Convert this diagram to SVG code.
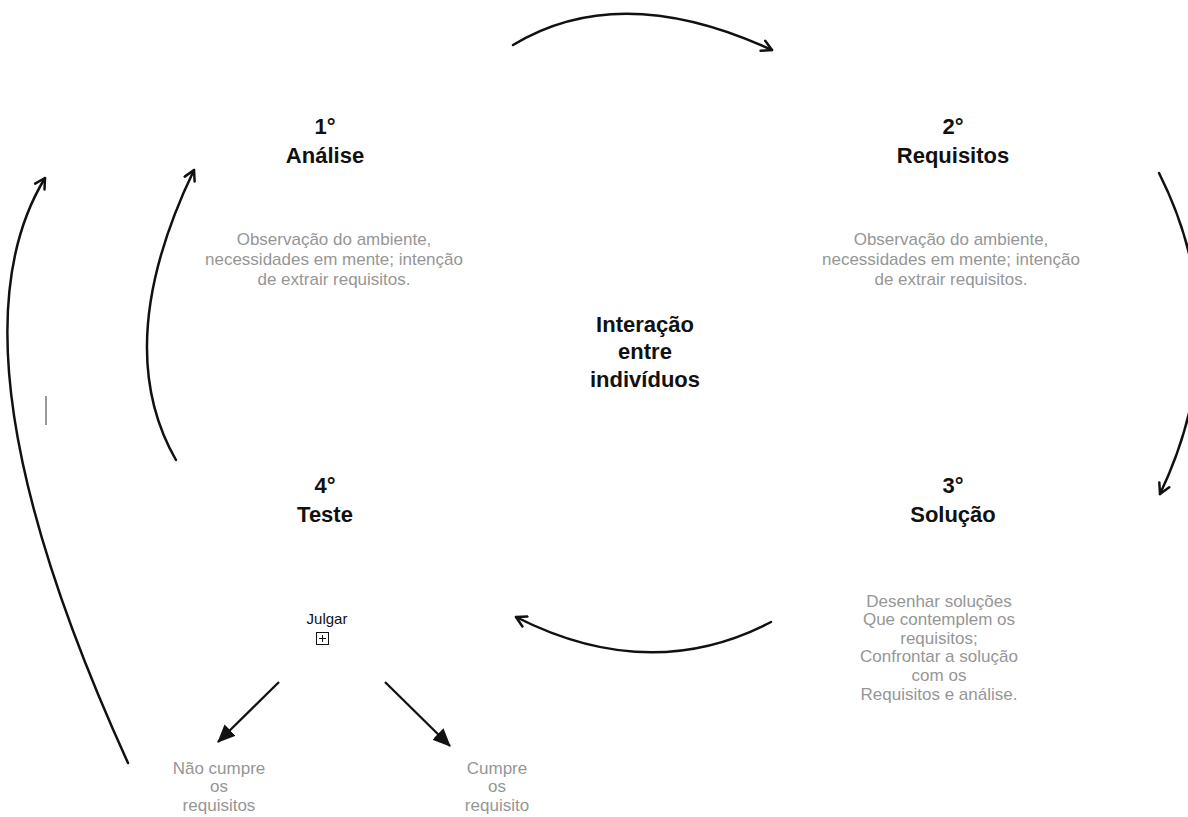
<svg xmlns="http://www.w3.org/2000/svg" width="1188" height="817" viewBox="0 0 1188 817">
<defs>
<style>
.t{font-family:"Liberation Sans",Arial,Helvetica,sans-serif;font-weight:bold;font-size:22px;fill:#111;text-anchor:middle}
.b{font-family:"Liberation Sans",Arial,Helvetica,sans-serif;font-size:17px;fill:#969696;text-anchor:middle}
.j{font-family:"Liberation Sans",Arial,Helvetica,sans-serif;font-size:15px;fill:#111;text-anchor:middle}
.arc{fill:none;stroke:#111;stroke-width:2.5;stroke-linecap:round;marker-end:url(#open)}
.dg{fill:none;stroke:#111;stroke-width:2.3;marker-end:url(#solid)}
</style>
<marker id="open" viewBox="0 0 14 14" refX="12" refY="7" markerWidth="14" markerHeight="14" markerUnits="userSpaceOnUse" orient="auto">
<path d="M2,1.5 L12,7 L2,12.5" fill="none" stroke="#111" stroke-width="2.5" stroke-linecap="round" stroke-linejoin="round"/>
</marker>
<marker id="solid" viewBox="0 0 18 16" refX="17" refY="8" markerWidth="18" markerHeight="16" markerUnits="userSpaceOnUse" orient="auto">
<path d="M0,0 L18,8 L0,16 Z" fill="#111"/>
</marker>
</defs>
<rect width="1188" height="817" fill="#fff"/>
<g id="connectors">
<path class="arc" d="M513,45 Q620,-20 772,50"/>
<path class="arc" d="M1159,173 Q1238,330 1160,494"/>
<path class="arc" d="M771,622 Q650,685 516,617"/>
<path class="arc" d="M176,460 Q110,345 194,170"/>
<path class="arc" d="M128,763 Q-60,350 45,178"/>
<path class="dg" d="M279,682 L218,742"/>
<path class="dg" d="M385,682 L450,746"/>
</g>
<line x1="46" y1="396" x2="46" y2="425" stroke="#777" stroke-width="1.5"/>
<g id="n1">
<text class="t" x="325" y="134">1°</text>
<text class="t" x="325" y="163">Análise</text>
<text class="b" x="334" y="245">Observação do ambiente,</text>
<text class="b" x="334" y="265">necessidades em mente; intenção</text>
<text class="b" x="334" y="285">de extrair requisitos.</text>
</g>
<g id="n2">
<text class="t" x="953" y="134">2°</text>
<text class="t" x="953" y="163">Requisitos</text>
<text class="b" x="951" y="245">Observação do ambiente,</text>
<text class="b" x="951" y="265">necessidades em mente; intenção</text>
<text class="b" x="951" y="285">de extrair requisitos.</text>
</g>
<g id="center">
<text class="t" x="645" y="332">Interação</text>
<text class="t" x="645" y="359">entre</text>
<text class="t" x="645" y="387">indivíduos</text>
</g>
<g id="n3">
<text class="t" x="953" y="493">3°</text>
<text class="t" x="953" y="522">Solução</text>
<text class="b" x="939" y="607">Desenhar soluções</text>
<text class="b" x="939" y="625">Que contemplem os</text>
<text class="b" x="939" y="644">requisitos;</text>
<text class="b" x="939" y="662">Confrontar a solução</text>
<text class="b" x="939" y="681">com os</text>
<text class="b" x="939" y="700">Requisitos e análise.</text>
</g>
<g id="n4">
<text class="t" x="325" y="493">4°</text>
<text class="t" x="325" y="522">Teste</text>
<text class="j" x="327" y="624">Julgar</text>
<rect x="316.5" y="632.5" width="12" height="12" fill="none" stroke="#111" stroke-width="1"/>
<path d="M322.5,635 V642 M319,638.5 H326" stroke="#111" stroke-width="1"/>
</g>
<g id="n5">
<text class="b" x="219" y="774">Não cumpre</text>
<text class="b" x="219" y="792">os</text>
<text class="b" x="219" y="811">requisitos</text>
</g>
<g id="n6">
<text class="b" x="497" y="774">Cumpre</text>
<text class="b" x="497" y="792">os</text>
<text class="b" x="497" y="811">requisito</text>
</g>
</svg>
